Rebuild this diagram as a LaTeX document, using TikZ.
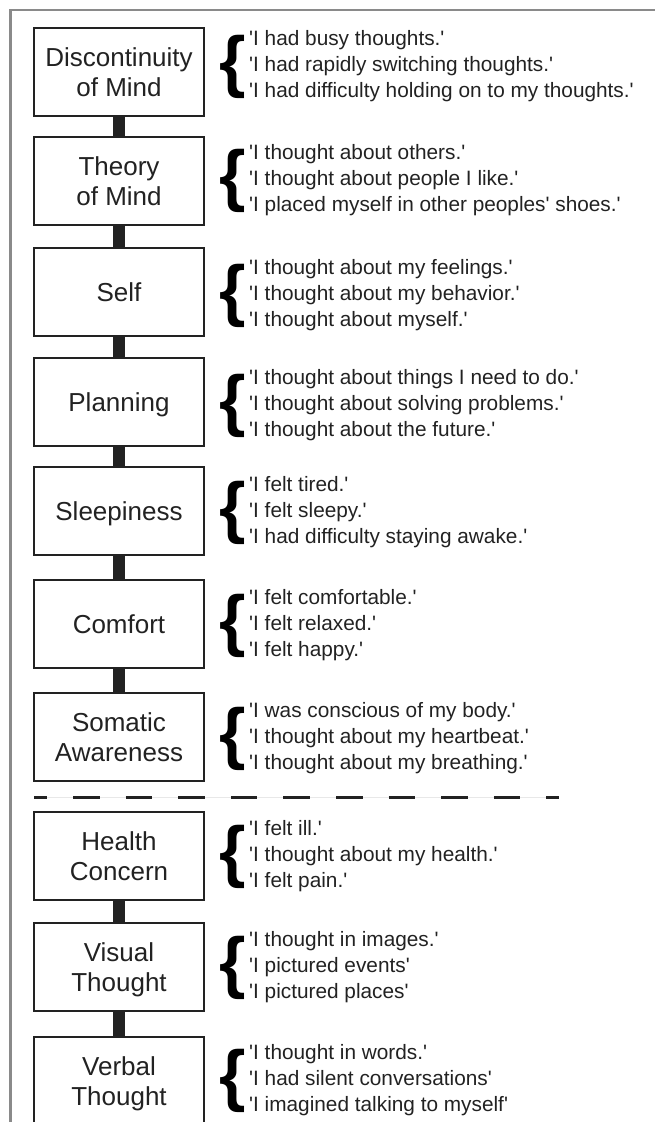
\documentclass[tikz,border=0pt]{standalone}
\usepackage{fontspec}
\setmainfont{Liberation Sans}
\definecolor{ink}{HTML}{222222}
\definecolor{framegray}{HTML}{8A8A8A}
\newcommand\q{\textquotesingle}
\tikzset{
  stagebox/.style={draw=ink, line width=2.5pt, fill=white, minimum width=170pt,
    minimum height=88pt, inner sep=0pt, align=center, text=ink,
    font=\fontsize{26}{30}\selectfont, text depth=0pt},
  itemtext/.style={anchor=base west, inner sep=0pt, text=ink,
    font=\fontsize{20.8}{26}\selectfont},
  bracemark/.style={inner sep=0pt, text=black, font=\bfseries\fontsize{68}{68}\selectfont},
  link/.style={draw=ink, line width=12pt},
  divider/.style={draw=ink, line width=3pt, dash pattern=on 26.5pt off 26.1pt, dash phase=13.6pt},
}
\newcommand\stagegroup[7]{%
  \node[stagebox] (b#1) at (119,#2) {#3};
  \node[bracemark] (br#1) at (233,{#4-4}) {\{};
  \node[itemtext] (t#1a) at (249,{#4-26}) {#5};
  \node[itemtext] (t#1b) at (249,#4) {#6};
  \node[itemtext] (t#1c) at (249,{#4+26}) {#7};
}
\begin{document}
\begin{tikzpicture}[x=1pt,y=-1pt]
\useasboundingbox (0,0) rectangle (655,1122);
\clip (0,0) rectangle (655,1122);
% frame
\coordinate (fa) at (10.5,1130);
\coordinate (fb) at (10.5,10.3);
\coordinate (fc) at (660,10.3);
\draw[framegray, line width=2.2pt] (fa) -- (fb) -- (fc);

\stagegroup{1}{72}{Discontinuity\\of Mind}{71}
  {\q I had busy thoughts.\q}
  {\q I had rapidly switching thoughts.\q}
  {\q I had difficulty holding on to my thoughts.\q}
\stagegroup{2}{181}{Theory\\of Mind}{185}
  {\q I thought about others.\q}
  {\q I thought about people I like.\q}
  {\q I placed myself in other peoples\q{} shoes.\q}
\stagegroup{3}{292}{Self}{300}
  {\q I thought about my feelings.\q}
  {\q I thought about my behavior.\q}
  {\q I thought about myself.\q}
\stagegroup{4}{402}{Planning}{410}
  {\q I thought about things I need to do.\q}
  {\q I thought about solving problems.\q}
  {\q I thought about the future.\q}
\stagegroup{5}{511}{Sleepiness}{517}
  {\q I felt tired.\q}
  {\q I felt sleepy.\q}
  {\q I had difficulty staying awake.\q}
\stagegroup{6}{624}{Comfort}{630}
  {\q I felt comfortable.\q}
  {\q I felt relaxed.\q}
  {\q I felt happy.\q}
\stagegroup{7}{737}{Somatic\\Awareness}{743}
  {\q I was conscious of my body.\q}
  {\q I thought about my heartbeat.\q}
  {\q I thought about my breathing.\q}
\stagegroup{8}{856}{Health\\Concern}{861}
  {\q I felt ill.\q}
  {\q I thought about my health.\q}
  {\q I felt pain.\q}
\stagegroup{9}{967}{Visual\\Thought}{972}
  {\q I thought in images.\q}
  {\q I pictured events\q}
  {\q I pictured places\q}
\stagegroup{10}{1081}{Verbal\\Thought}{1085}
  {\q I thought in words.\q}
  {\q I had silent conversations\q}
  {\q I imagined talking to myself\q}

% connectors
\foreach \a/\b in {1/2,2/3,3/4,4/5,5/6,6/7,8/9,9/10}
  \draw[link] (b\a.south) -- (b\b.north);

% divider
\coordinate (d1) at (34,797);
\coordinate (d2) at (559,797);
\draw[gray!18, line width=0.6pt] (d1) -- (d2);
\draw[divider] (d1) -- (d2);
\end{tikzpicture}
\end{document}
